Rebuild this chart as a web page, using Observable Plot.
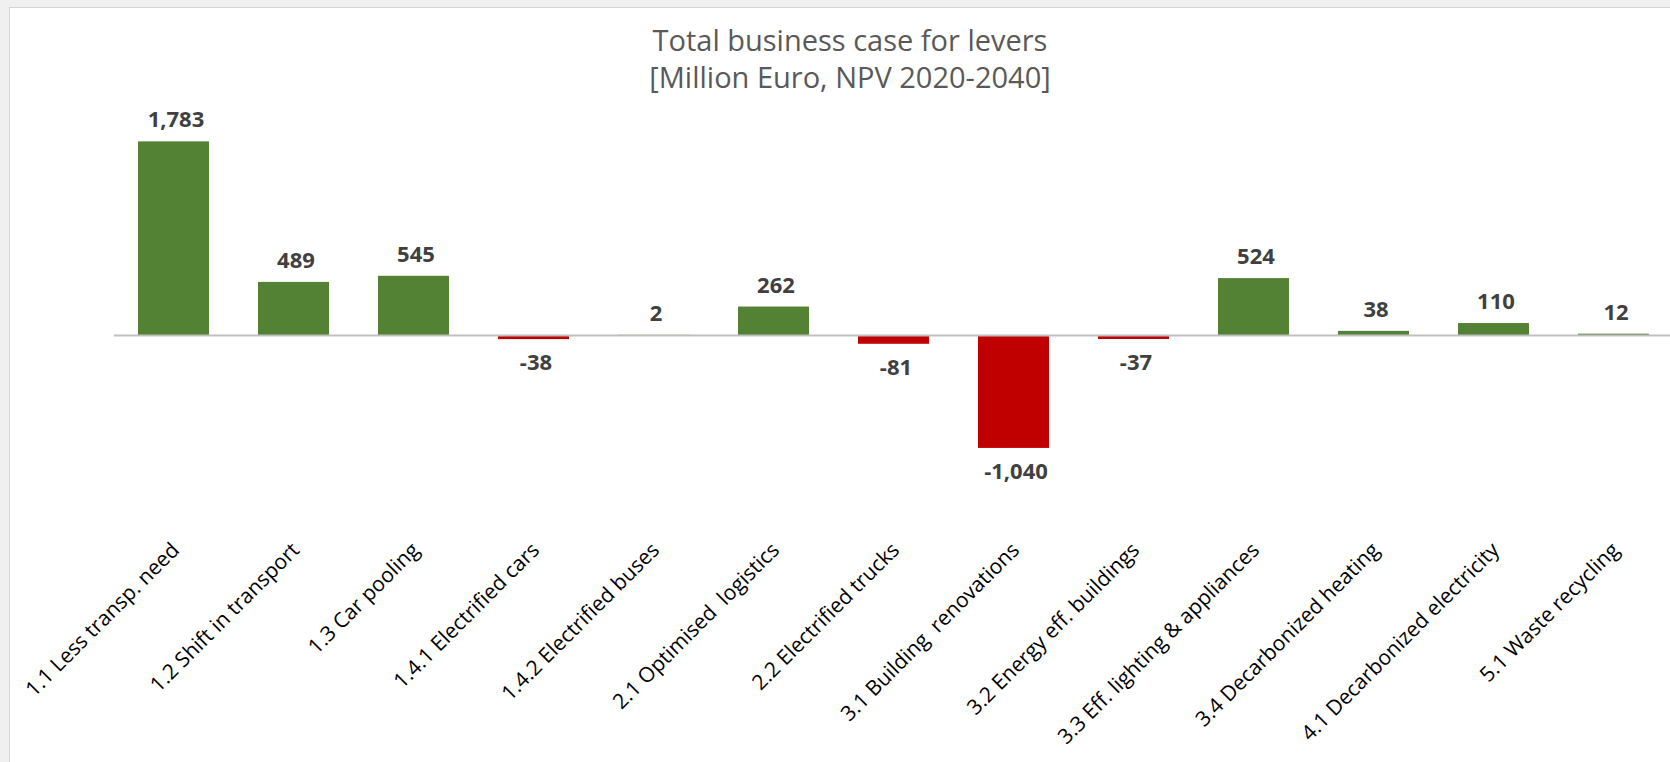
<!DOCTYPE html>
<html>
<head>
<meta charset="utf-8">
<script src="https://cdn.jsdelivr.net/npm/d3@7"></script>
<script src="https://cdn.jsdelivr.net/npm/@observablehq/plot@0.6"></script>
<style>
  html, body { margin: 0; padding: 0; }
  body { width: 1670px; height: 762px; overflow: hidden; background: #f0f0f0; position: relative; font-family: "Open Sans", sans-serif; }
  #frame { position: absolute; left: 9px; top: 7px; right: 0; bottom: 0; background: #fff; border-left: 1px solid #d4d4d4; border-top: 1px solid #d4d4d4; }
  .title { position: absolute; left: 10px; width: 1680px; text-align: center; color: #595959; font-size: 29px; line-height: 1.2; white-space: nowrap; }
  #t1 { top: 23px; }
  #t2 { top: 60px; }
  #chart { position: absolute; left: 10px; top: 100px; }
  #chart svg text { white-space: pre; }
</style>
</head>
<body>
<div id="frame"></div>
<div class="title" id="t1">Total business case for levers</div>
<div class="title" id="t2">[Million Euro, NPV 2020-2040]</div>
<div id="chart"></div>
<script>
const levers = [
  "1.1 Less transp. need",
  "1.2 Shift in transport",
  "1.3 Car pooling",
  "1.4.1 Electrified cars",
  "1.4.2 Electrified buses",
  "2.1 Optimised  logistics",
  "2.2 Electrified trucks",
  "3.1 Building  renovations",
  "3.2 Energy eff. buildings",
  "3.3 Eff. lighting & appliances",
  "3.4 Decarbonized heating",
  "4.1 Decarbonized electricity",
  "5.1 Waste recycling"
];
const values = [1783, 489, 545, -38, 2, 262, -81, -1040, -37, 524, 38, 110, 12];

const green = "#548235";
const red = "#c00000";
const data = levers.map((name, i) => ({name, value: values[i]}));
const fmt = d3.formatLocale({decimal: ".", thousands: ",", grouping: [3], currency: ["", ""], minus: "-"}).format(",");

const chart = Plot.plot({
  width: 1660,
  height: 662,
  marginLeft: 104,
  marginRight: 0,
  marginTop: 17.8,
  marginBottom: 296.7,
  x: {domain: levers, paddingInner: 0.4083, paddingOuter: 0.1875, align: 0.533, round: false},
  y: {domain: [-1200, 2000], axis: null},
  color: {type: "identity"},
  style: {fontFamily: "'Open Sans', sans-serif", background: "transparent", overflow: "visible"},
  marks: [
    Plot.barY(data, {x: "name", y: "value", fill: d => d.value >= 0 ? green : red}),
    Plot.ruleY([0], {stroke: "#bfbfbf", strokeWidth: 2}),
    Plot.text(data.filter(d => d.value >= 0), {
      x: "name", y: "value", text: d => fmt(d.value),
      lineAnchor: "bottom", dy: -14.5, dx: 2,
      fontSize: 22, fontWeight: "bold", fill: "#404040"
    }),
    Plot.text(data.filter(d => d.value < 0), {
      x: "name", y: "value", text: d => fmt(d.value),
      lineAnchor: "top", dy: 15, dx: 2,
      fontSize: 22, fontWeight: "bold", fill: "#404040"
    }),
    Plot.axisX({
      tickSize: 0, tickPadding: 75, tickRotate: -45,
      textAnchor: "end", lineAnchor: "top", dx: -4,
      fontSize: 21, color: "#000", label: null
    })
  ]
});
document.getElementById("chart").appendChild(chart);
</script>
</body>
</html>
